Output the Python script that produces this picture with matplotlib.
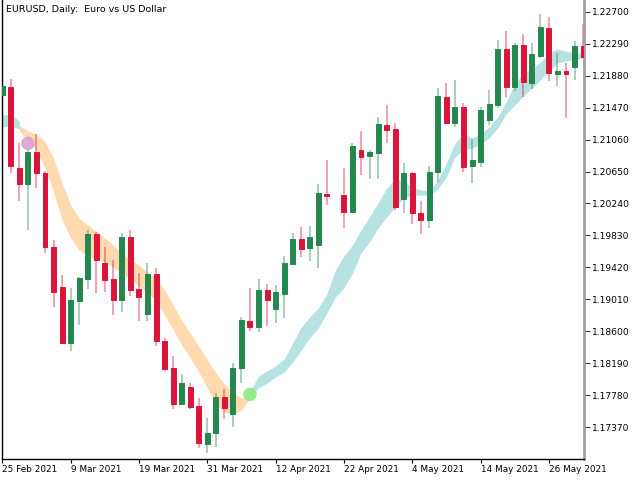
import numpy as np
import matplotlib
matplotlib.use("Agg")
import matplotlib.pyplot as plt

# ---------------- data (EURUSD daily) ----------------
nan = np.nan
opens = [1.21636, 1.21730, 1.20692, 1.20486, 1.20901, 1.20635, 1.19678, 1.19173, 1.18447, 1.18990,
         1.19272, 1.19849, 1.19481, 1.19272, 1.19003, 1.19814, 1.19144, 1.18823, 1.19336, 1.18477,
         1.18127, 1.17669, 1.17891, 1.17643, 1.17156, 1.17293, 1.17762, 1.17537, 1.18127, 1.18733,
         1.18660, 1.19131, 1.18881, 1.19083, 1.19464, 1.19785, 1.19669, 1.19708, 1.20362, nan,
         1.20349, 1.20135, 1.20926, 1.20849, 1.20892, 1.21247, 1.21196, 1.20298, 1.20635, 1.20114,
         1.20029, 1.20648, 1.21610, 1.21276, 1.21478, 1.20725, 1.20776, 1.21317, 1.21503, 1.22222,
         1.21738, 1.22273, 1.21782, 1.22132, 1.22487, 1.21907, 1.21939, 1.21995, 1.22260]
highs = [1.21773, 1.21837, 1.21012, 1.20965, 1.21131, 1.20657, 1.19772, 1.19323, 1.19153, 1.19301,
         1.19900, 1.19878, 1.19686, 1.19516, 1.19858, 1.19900, 1.19345, 1.19481, 1.19409, 1.18511,
         1.18284, 1.18053, 1.17934, 1.17742, 1.17485, 1.17806, 1.17857, 1.18191, 1.18788, 1.19153,
         1.19272, 1.19208, 1.19195, 1.19573, 1.19868, 1.19939, 1.19952, 1.20490, 1.20798, nan,
         1.20695, 1.21012, 1.21170, 1.20926, 1.21353, 1.21503, 1.21276, 1.20763, 1.20648, 1.20276,
         1.20721, 1.21725, 1.21786, 1.21824, 1.21529, 1.21064, 1.21474, 1.21696, 1.22337, 1.22456,
         1.22302, 1.22410, 1.22302, 1.22670, 1.22636, 1.22166, 1.22046, 1.22324, 1.22542]
lows = [1.21606, 1.20627, 1.20276, 1.19900, 1.20435, 1.19609, 1.18917, 1.18438, 1.18352, 1.18682,
        1.19144, 1.19096, 1.19109, 1.18810, 1.18853, 1.19054, 1.18737, 1.18737, 1.18413, 1.18096,
        1.17605, 1.17656, 1.17605, 1.17101, 1.17036, 1.17121, 1.17476, 1.17378, 1.17942, 1.18605,
        1.18596, 1.18669, 1.18711, 1.18775, 1.19458, 1.19554, 1.19503, 1.19419, 1.20221, nan,
        1.19930, 1.20114, 1.20606, 1.20554, 1.20554, 1.21020, 1.20157, 1.20114, 1.19977, 1.19849,
        1.19930, 1.20520, 1.21273, 1.21225, 1.20644, 1.20507, 1.20704, 1.21247, 1.21469, 1.21606,
        1.21687, 1.21610, 1.21705, 1.22110, 1.21815, 1.21747, 1.21333, 1.21824, 1.22106]
closes = [1.21747, 1.20725, 1.20486, 1.20901, 1.20627, 1.19686, 1.19109, 1.18447, 1.19003, 1.19289,
          1.19849, 1.19516, 1.19259, 1.19003, 1.19814, 1.19131, 1.19045, 1.19336, 1.18481, 1.18118,
          1.17669, 1.17934, 1.17634, 1.17165, 1.17301, 1.17762, 1.17614, 1.18127, 1.18746, 1.18660,
          1.19131, 1.19006, 1.19108, 1.19477, 1.19785, 1.19650, 1.19814, 1.20375, 1.20340, nan,
          1.20135, 1.20978, 1.20840, 1.20904, 1.21264, 1.21183, 1.20199, 1.20635, 1.20122, 1.20029,
          1.20648, 1.21619, 1.21276, 1.21478, 1.20702, 1.20798, 1.21439, 1.21516, 1.22222, 1.21738,
          1.22273, 1.21802, 1.22157, 1.22500, 1.21918, 1.21939, 1.21897, 1.22260, 1.22119]

# trend ribbons (bar index ranges, upper / lower edge)
up1_idx = [0, 1, 2]
up1_hi = [1.21375, 1.21388, 1.21298]
up1_lo = [1.21221, 1.21234, 1.21196]

down_idx = list(range(2, 30))
down_hi = [1.21234, 1.21170, 1.21131, 1.21029, 1.20824, 1.20503, 1.20221, 1.20054, 1.19964, 1.19887,
           1.19798, 1.19708, 1.19605, 1.19528, 1.19451, 1.19362, 1.19285, 1.19131, 1.18938, 1.18746,
           1.18579, 1.18413, 1.18233, 1.18066, 1.17925, 1.17810, 1.17746, 1.17823]
down_lo = [1.21170, 1.21055, 1.20926, 1.20695, 1.20388, 1.20029, 1.19798, 1.19644, 1.19567, 1.19528,
           1.19490, 1.19426, 1.19349, 1.19272, 1.19182, 1.19092, 1.19003, 1.18810, 1.18618, 1.18425,
           1.18259, 1.18079, 1.17874, 1.17669, 1.17566, 1.17540, 1.17592, 1.17746]

up2_idx = list(range(29, 69))
up2_hi = [1.17835, 1.18028, 1.18092, 1.18156, 1.18246, 1.18451, 1.18656, 1.18785, 1.18900, 1.19079,
          1.19387, 1.19567, 1.19708, 1.19900, 1.20067, 1.20247, 1.20439, 1.20554, 1.20529, 1.20452,
          1.20413, 1.20400, 1.20542, 1.20760, 1.21016, 1.21131, 1.21080, 1.21131, 1.21221, 1.21350,
          1.21542, 1.21773, 1.21914, 1.21965, 1.22055, 1.22170, 1.22222, 1.22196, 1.22170, 1.22170]
up2_lo = [1.17746, 1.17874, 1.17938, 1.18015, 1.18079, 1.18207, 1.18361, 1.18515, 1.18643, 1.18836,
          1.19041, 1.19156, 1.19349, 1.19605, 1.19746, 1.19926, 1.20067, 1.20195, 1.20311, 1.20349,
          1.20349, 1.20349, 1.20426, 1.20580, 1.20837, 1.20926, 1.20952, 1.21003, 1.21080, 1.21208,
          1.21388, 1.21503, 1.21619, 1.21721, 1.21824, 1.21939, 1.22042, 1.22068, 1.22081, 1.22106]

# trend-change signal points
sig_idx = [3, 29]
sig_price = [1.21012, 1.17791]

tick_idx = [0, 8, 16, 24, 32, 40, 48, 56, 64]
tick_labels = ["25 Feb 2021", "9 Mar 2021", "19 Mar 2021", "31 Mar 2021", "12 Apr 2021",
               "22 Apr 2021", "4 May 2021", "14 May 2021", "26 May 2021"]
ytick_vals = [1.17370, 1.17780, 1.18190, 1.18600, 1.19010, 1.19420, 1.19830,
              1.20240, 1.20650, 1.21060, 1.21470, 1.21880, 1.22290, 1.22700]
title = "EURUSD, Daily:  Euro vs US Dollar"

# ---------------- drawing ----------------
plt.rcParams['font.family'] = ['DejaVu Sans']
fig = plt.figure(figsize=(6.4, 4.8), dpi=100)
fig.patch.set_facecolor('white')
ax = fig.add_axes([2 / 640, 21 / 480, 582 / 640, 459 / 480])

BULL = '#24874E'
BEAR = '#DC143C'
ORANGE = '#FFDAAE'
CYAN = '#B6E3E2'

ax.fill_between(up1_idx, up1_lo, up1_hi, color=CYAN, lw=0, zorder=1)
ax.fill_between(down_idx, down_lo, down_hi, color=ORANGE, lw=0, zorder=1)
ax.fill_between(up2_idx, up2_lo, up2_hi, color=CYAN, lw=0, zorder=1)

o = np.array(opens); h = np.array(highs); l = np.array(lows); c = np.array(closes)
x = np.arange(len(o))
ok = ~np.isnan(o)
bull = ok & (c >= o)
bear = ok & (c < o)

for mask, col in ((bull, BULL), (bear, BEAR)):
    ax.vlines(x[mask], l[mask], h[mask], colors=col, lw=1.1, alpha=0.5, zorder=2)
    ax.bar(x[mask], np.abs(c[mask] - o[mask]), bottom=np.minimum(o[mask], c[mask]),
           width=0.58, color=col, edgecolor=col, lw=0.7, zorder=3)

ax.scatter([sig_idx[0]], [sig_price[0]], s=95, color='#D6A3D2', alpha=0.9,
           edgecolors='none', zorder=4)
ax.scatter([sig_idx[1]], [sig_price[1]], s=95, color='#93EC86', alpha=0.95,
           edgecolors='none', zorder=4)

ax.set_xlim(-0.035, 68.11)
ax.set_ylim(1.16963, 1.22850)

ax.set_xticks(tick_idx)
ax.set_xticklabels(tick_labels, ha='left', fontsize=6.4)
ax.set_yticks(ytick_vals)
ax.set_yticklabels(['%.5f' % v for v in ytick_vals], fontsize=6.6)
ax.yaxis.tick_right()
ax.tick_params(axis='x', direction='out', length=3, width=0.8, pad=1.5, colors='black')
ax.tick_params(axis='y', direction='out', length=4, width=0.8, pad=1.5, colors='#333333',
               labelcolor='black')

for s in ('top',):
    ax.spines[s].set_visible(False)
ax.spines['left'].set_color('black')
ax.spines['left'].set_linewidth(1.0)
ax.spines['bottom'].set_color('black')
ax.spines['bottom'].set_linewidth(1.0)
ax.spines['right'].set_color('#A0A0A0')
ax.spines['right'].set_linewidth(2.0)

fig.text(6 / 640, 1 - 10 / 480, title, fontsize=6.8, va='center', ha='left', color='black')

fig.savefig('out.png', dpi=100, facecolor='white')
